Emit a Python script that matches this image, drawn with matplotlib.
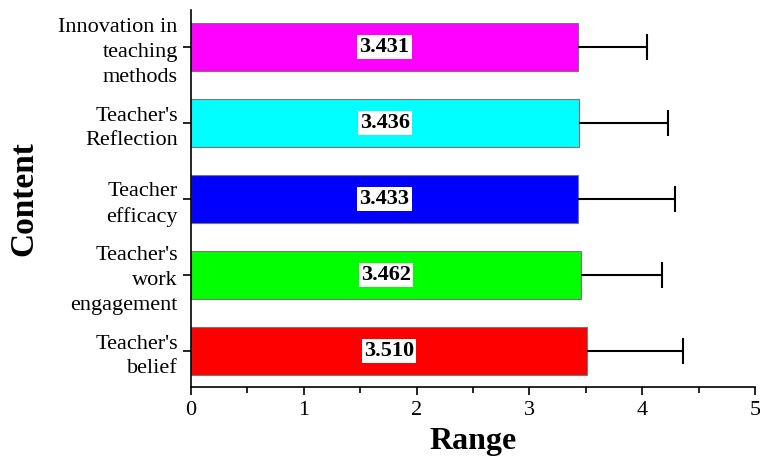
import numpy as np
import matplotlib
matplotlib.use("Agg")
import matplotlib.pyplot as plt
from matplotlib.ticker import MultipleLocator

plt.rcParams["font.family"] = ["Liberation Serif", "DejaVu Serif"]

# ── data (bottom to top) ─────────────────────────────
categories = ["Teacher's\nbelief", "Teacher's\nwork\nengagement", "Teacher\nefficacy",
              "Teacher's\nReflection", "Innovation in\nteaching\nmethods"]
means = [3.510, 3.462, 3.433, 3.436, 3.431]
errors = [0.85, 0.71, 0.86, 0.79, 0.61]
colors = ["#ff0000", "#00ff00", "#0000ff", "#00ffff", "#ff00ff"]

fig = plt.figure(figsize=(7.6, 4.57), dpi=100)
ax = fig.add_axes([0.2513, 0.1532, 0.742, 0.825])

y = np.arange(len(categories))
ax.barh(y, means, height=0.63, color=colors, edgecolor="#777777", linewidth=0.8, zorder=2)
_, caps, _ = ax.errorbar(means, y, xerr=[np.zeros(len(means)), errors], fmt="none",
                         ecolor="black", elinewidth=1.5, capsize=9.4, capthick=1.5, zorder=3)
caps[0].set_visible(False)  # no cap at the bar end

for yi, m in zip(y, means):
    ax.text(m / 2, yi, f"{m:.3f}", ha="center", va="center", fontsize=16,
            fontweight="bold", zorder=4,
            bbox=dict(boxstyle="square,pad=0.1", facecolor="white", edgecolor="none"))

ax.set_xlim(0, 5)
ax.set_ylim(-0.47, 4.49)
ax.set_yticks(y)
ax.set_yticklabels(categories, fontsize=16, linespacing=1.4)
ax.xaxis.set_major_locator(MultipleLocator(1))
ax.xaxis.set_minor_locator(MultipleLocator(0.5))
ax.tick_params(axis="x", labelsize=16, length=6, width=1.2, pad=4)
ax.tick_params(axis="x", which="minor", length=4, width=1.2)
ax.tick_params(axis="y", length=6, width=1.2)

for s in ["top", "right"]:
    ax.spines[s].set_visible(False)
for s in ["left", "bottom"]:
    ax.spines[s].set_linewidth(1.2)

ax.set_xlabel("Range", fontsize=23, fontweight="bold", labelpad=5)
ax.set_ylabel("Content", fontsize=24, fontweight="bold", labelpad=14)

fig.savefig("out.png", dpi=100)
